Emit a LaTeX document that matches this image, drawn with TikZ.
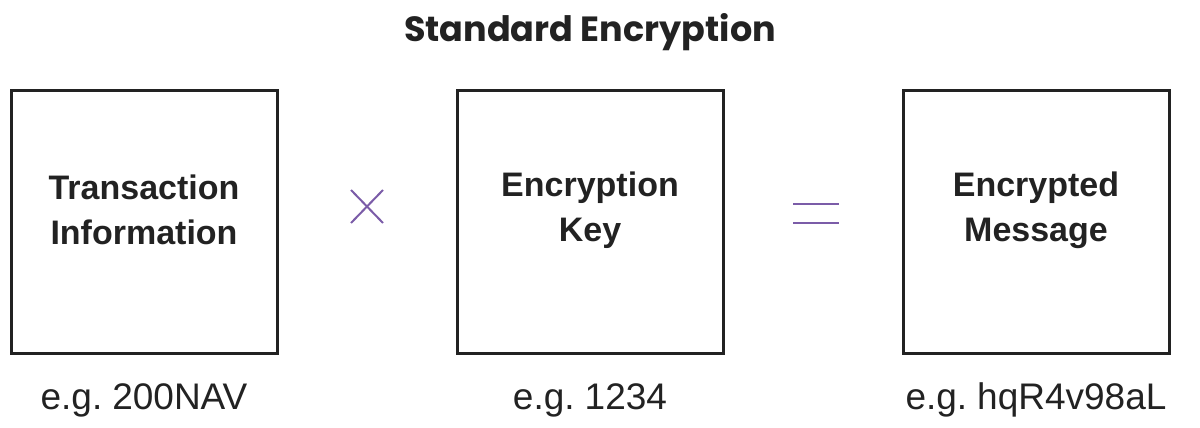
\documentclass[tikz,border=0pt]{standalone}
\usepackage{fontspec}
\newfontfamily\titlef{Poppins}
\newfontfamily\bodyf{Liberation Sans}
\definecolor{ink}{HTML}{222222}
\definecolor{op}{HTML}{7B5CA8}
\begin{document}
\begin{tikzpicture}[x=1pt,y=-1pt,
  box/.style={draw=ink,line width=3pt,minimum width=266pt,minimum height=263pt,inner sep=0pt},
  boxtext/.style={text=ink,font=\bodyf\bfseries\fontsize{34}{45}\selectfont,align=center},
  eg/.style={text=ink,font=\bodyf\fontsize{37}{38}\selectfont,anchor=base},
  opline/.style={draw=op,line width=2pt}]
\useasboundingbox (0,0) rectangle (1200,428);
\node[text=ink,font=\titlef\bfseries\fontsize{35}{40}\selectfont,anchor=base] (title) at (590,42) {Standard Encryption};
\node[box] (b1) at (144,222) {};
\node[box] (b2) at (590,222) {};
\node[box] (b3) at (1036,222) {};
\node[boxtext] (t1) at (b1) [yshift=12pt] {Transaction\\Information};
\node[boxtext] (t2) at (b2) [yshift=12pt] {Encryption\\Key};
\node[boxtext] (t3) at (b3) [yshift=12pt] {Encrypted\\Message};
\node[eg] (e1) at (144,409) {e.g.\kern-0.1em{} 200NAV};
\node[eg] (e2) at (590,409) {e.g.\kern-0.1em{} 1234};
\node[eg] (e3) at (1036,409) {e.g.\kern-0.1em{} hqR4v98aL};
\coordinate (x1) at (351,190); \coordinate (x2) at (383,223);
\coordinate (x3) at (351,223); \coordinate (x4) at (383,190);
\draw[opline] (x1) -- (x2);
\draw[opline] (x3) -- (x4);
\coordinate (q1) at (793,204); \coordinate (q2) at (839,204);
\coordinate (q3) at (793,223); \coordinate (q4) at (839,223);
\draw[opline] (q1) -- (q2);
\draw[opline] (q3) -- (q4);
\end{tikzpicture}
\end{document}
